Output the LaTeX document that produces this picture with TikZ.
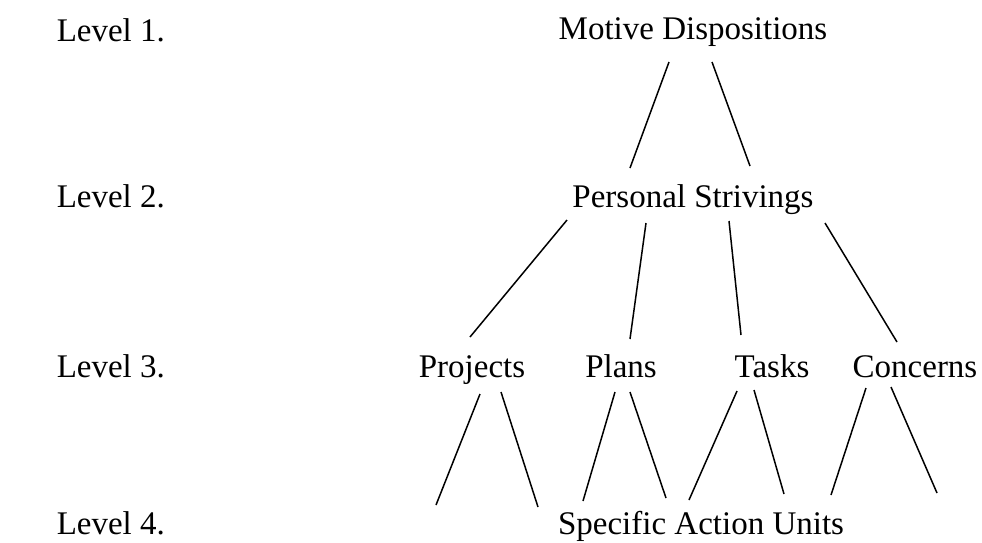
\documentclass[tikz,border=0pt]{standalone}
\usepackage{fontspec}
\setmainfont{Liberation Serif}
\usepackage{tikz}

\begin{document}
\begin{tikzpicture}[x=1pt, y=-1pt, line width=1.5pt,
    every node/.style={anchor=base, inner sep=0pt, font=\fontsize{33}{40}\selectfont},
    lvl/.style={anchor=base west}]
    \useasboundingbox (0,0) rectangle (982,542);
    % level labels
    \node [lvl] (lv1) at (56, 41) {Level 1.};
    \node [lvl] (lv2) at (56, 207) {Level 2.};
    \node [lvl] (lv3) at (56, 377) {Level 3.};
    \node [lvl] (lv4) at (56, 534) {Level 4.};
    % the hierarchy
    \node (md) at (693, 39) {Motive Dispositions};
    \node (ps) at (693, 207) {Personal Strivings};
    \node (proj) at (472, 377) {Projects};
    \node (plan) at (621, 377) {Plans};
    \node (task) at (772, 377) {Tasks};
    \node (conc) at (915, 377) {Concerns};
    \node (sau) at (701, 534) {Specific Action Units};
    % line ends
    \coordinate (md1) at (669, 62);   \coordinate (ps1) at (630, 168);
    \coordinate (md2) at (712, 62);   \coordinate (ps2) at (750, 166);
    \coordinate (ps3) at (567, 220);  \coordinate (proj1) at (470, 337);
    \coordinate (ps4) at (646, 223);  \coordinate (plan1) at (630, 339);
    \coordinate (ps5) at (729, 221);  \coordinate (task1) at (741, 335);
    \coordinate (ps6) at (825, 223);  \coordinate (conc1) at (897, 342);
    \coordinate (proj2) at (480, 394); \coordinate (sau1) at (436, 505);
    \coordinate (proj3) at (501, 392); \coordinate (sau2) at (538, 507);
    \coordinate (plan2) at (615, 392); \coordinate (sau3) at (583, 501);
    \coordinate (plan3) at (630, 392); \coordinate (sau4) at (666, 498);
    \coordinate (task2) at (737, 391); \coordinate (sau5) at (689, 500);
    \coordinate (task3) at (754, 390); \coordinate (sau6) at (784, 494);
    \coordinate (conc2) at (866, 388); \coordinate (sau7) at (831, 495);
    \coordinate (conc3) at (891, 387); \coordinate (sau8) at (937, 493);
    \draw (md1) to (ps1);
    \draw (md2) to (ps2);
    \draw (ps3) to (proj1);
    \draw (ps4) to (plan1);
    \draw (ps5) to (task1);
    \draw (ps6) to (conc1);
    \draw (proj2) to (sau1);
    \draw (proj3) to (sau2);
    \draw (plan2) to (sau3);
    \draw (plan3) to (sau4);
    \draw (task2) to (sau5);
    \draw (task3) to (sau6);
    \draw (conc2) to (sau7);
    \draw (conc3) to (sau8);
\end{tikzpicture}
\end{document}
